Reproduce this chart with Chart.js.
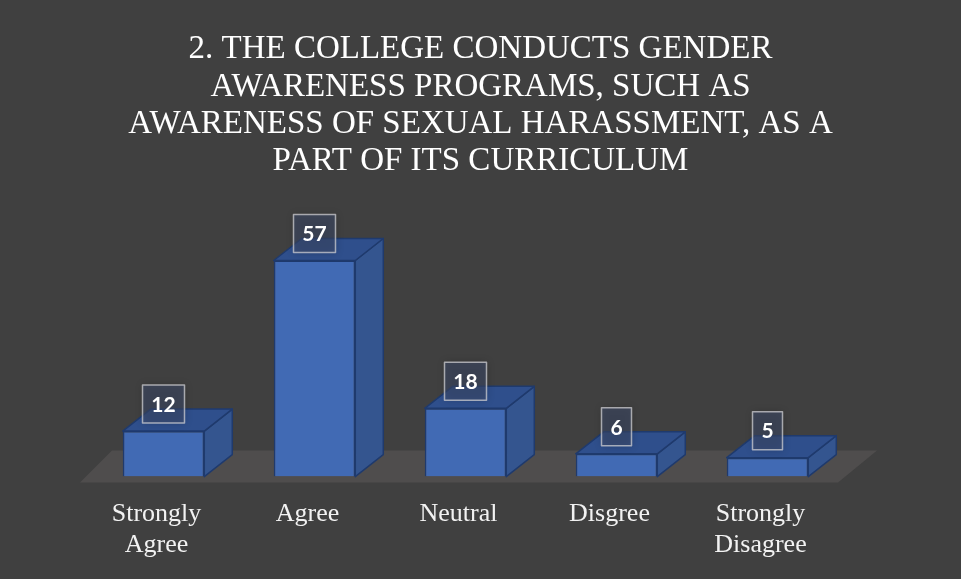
<!DOCTYPE html>
<html>
<head>
<meta charset="utf-8">
<style>
  html, body { margin: 0; padding: 0; background: #404040; }
  canvas { display: block; }
</style>
<script src="https://cdn.jsdelivr.net/npm/chart.js@4"></script>
</head>
<body>
<canvas id="myChart" width="961" height="579"></canvas>
<script>
// categories and responses
const categories = [['Strongly', 'Agree'], 'Agree', 'Neutral', 'Disgree', ['Strongly', 'Disagree']];
const responses = [12, 57, 18, 6, 5];
const titleLines = [
    '2. THE COLLEGE CONDUCTS GENDER',
    'AWARENESS PROGRAMS, SUCH AS',
    'AWARENESS OF SEXUAL HARASSMENT, AS A',
    'PART OF ITS CURRICULUM'
];

// 3D look: depth of each box
const DEPTH_X = 28;
const DEPTH_Y = 22;

// floor under the bars
const floorPlugin = {
    id: 'floor',
    beforeDatasetsDraw(chart) {
        const {ctx, chartArea} = chart;
        const b = chartArea.bottom;
        ctx.save();
        ctx.fillStyle = '#4f4d4d';
        ctx.beginPath();
        ctx.moveTo(chartArea.left - 8, b + 6);
        ctx.lineTo(chartArea.right - 5, b + 6);
        ctx.lineTo(chartArea.right + 34, b - 26);
        ctx.lineTo(chartArea.left + 24, b - 26);
        ctx.closePath();
        ctx.fill();
        ctx.restore();
    }
};

// top and side faces + value boxes
const boxPlugin = {
    id: 'box3d',
    afterDatasetsDraw(chart) {
        const {ctx} = chart;
        const meta = chart.getDatasetMeta(0);
        ctx.save();
        meta.data.forEach((bar, i) => {
            const l = bar.x - bar.width / 2;
            const r = bar.x + bar.width / 2;
            const t = bar.y;
            const bt = bar.base;
            ctx.lineWidth = 1.5;
            ctx.strokeStyle = '#1f3a6d';
            ctx.lineJoin = 'round';
            // side
            ctx.fillStyle = '#34558f';
            ctx.beginPath();
            ctx.moveTo(r, t);
            ctx.lineTo(r + DEPTH_X, t - DEPTH_Y);
            ctx.lineTo(r + DEPTH_X, bt - DEPTH_Y);
            ctx.lineTo(r, bt);
            ctx.closePath();
            ctx.fill();
            ctx.stroke();
            // top
            ctx.fillStyle = '#2f4f8c';
            ctx.beginPath();
            ctx.moveTo(l, t);
            ctx.lineTo(l + DEPTH_X, t - DEPTH_Y);
            ctx.lineTo(r + DEPTH_X, t - DEPTH_Y);
            ctx.lineTo(r, t);
            ctx.closePath();
            ctx.fill();
            ctx.stroke();
        });

        // value labels
        ctx.font = 'bold 21px Lato';
        ctx.textAlign = 'center';
        ctx.textBaseline = 'middle';
        meta.data.forEach((bar, i) => {
            const txt = String(responses[i]);
            const w = txt.length > 1 ? 42 : 30;
            const h = 38;
            const x = bar.x - w / 2;
            const y = bar.y - 8 - h;
            ctx.save();
            ctx.shadowColor = 'rgba(0,0,0,0.35)';
            ctx.shadowBlur = 8;
            ctx.fillStyle = 'rgba(62,75,105,0.55)';
            ctx.fillRect(x, y, w, h);
            ctx.restore();
            ctx.strokeStyle = 'rgba(205,205,210,0.75)';
            ctx.lineWidth = 1.5;
            ctx.strokeRect(x, y, w, h);
            ctx.fillStyle = '#ffffff';
            ctx.fillText(txt, bar.x, y + h / 2 + 1);
        });
        ctx.restore();
    }
};

// hidden side axes reserve fixed room left and right of the bars
const hiddenAxis = (pos, size) => ({
    position: pos,
    display: true,
    min: 0,
    max: 60,
    grid: {display: false, drawTicks: false},
    border: {display: false},
    ticks: {display: false},
    afterFit: scale => { scale.width = size; }
});

const ctx = document.querySelector('#myChart').getContext('2d');
const myChart = new Chart(ctx, {
    type: 'bar',
    data: {
        labels: categories,
        datasets: [{
            label: 'responses',
            data: responses,
            backgroundColor: '#416ab4',
            borderColor: '#1f3a6d',
            borderWidth: 1.5,
            barPercentage: 0.54,
            categoryPercentage: 1,
            yAxisID: 'y'
        }]
    },
    options: {
        responsive: false,
        devicePixelRatio: 1,
        animation: false,
        layout: {
            padding: {left: 0, right: 0, top: 0, bottom: -4}
        },
        plugins: {
            legend: {display: false},
            tooltip: {enabled: false},
            title: {
                display: true,
                text: titleLines,
                color: '#ffffff',
                font: {family: 'Liberation Serif', size: 33, weight: 'normal', lineHeight: 1.13},
                padding: {top: 31, bottom: 69}
            }
        },
        scales: {
            x: {
                grid: {display: false, drawTicks: false},
                border: {display: false},
                ticks: {
                    color: '#f2f2f2',
                    font: {family: 'Liberation Serif', size: 26, lineHeight: 1.2},
                    padding: 22,
                    labelOffset: -7,
                    maxRotation: 0
                }
            },
            y: hiddenAxis('left', 88),
            yRight: hiddenAxis('right', 118)
        }
    },
    plugins: [floorPlugin, boxPlugin]
});
</script>
</body>
</html>
